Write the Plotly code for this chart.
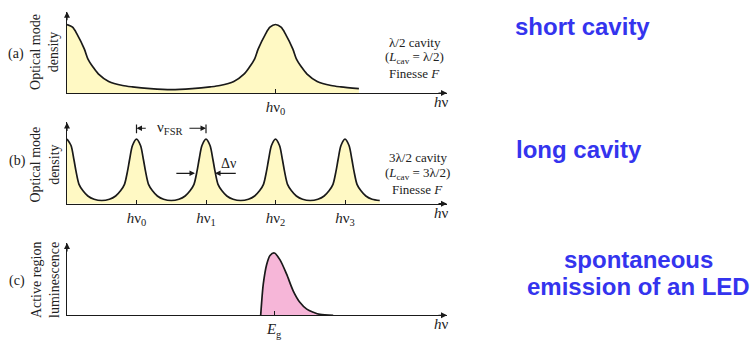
import plotly.graph_objects as go

# ---------------- data ----------------
# x unit = one free spectral range of the long cavity
# panel (a): short cavity (lambda/2), one mode profile repeated at the mode centres
short_mode_centres = [0, 3]
short_mode_offsets = [0, 0.08, 0.144, 0.25, 0.30, 0.374, 0.45, 0.6, 0.8, 0.94, 1.2, 1.5]
short_mode_heights = [1.0, 0.96, 0.86, 0.64, 0.5, 0.38, 0.28, 0.17, 0.11, 0.09, 0.065, 0.05]
short_curve_end = 4.47

# panel (b): long cavity (3 lambda/2)
long_mode_centres = [0, 1, 2, 3, 4]
long_mode_offsets = [0, 0.058, 0.10, 0.13, 0.173, 0.23, 0.30, 0.39, 0.5]
long_mode_heights = [1.0, 0.9, 0.68, 0.5, 0.3, 0.2, 0.12, 0.07, 0.05]
long_curve_end = 4.5

# panel (c): LED spontaneous emission
lum_x = [2.787, 2.80, 2.824, 2.873, 2.921, 2.983, 3.065, 3.16, 3.256, 3.35, 3.45, 3.545, 3.64, 3.83]
lum_y = [0, 0.2, 0.5, 0.815, 0.96, 1.0, 0.89, 0.66, 0.39, 0.21, 0.1, 0.05, 0.015, 0]

# tick labels
short_tick_vals = [3]
short_tick_text = ["<i>h</i>ν<sub>0</sub>"]
long_tick_vals = [1, 2, 3, 4]
long_tick_text = ["<i>h</i>ν<sub>0</sub>", "<i>h</i>ν<sub>1</sub>", "<i>h</i>ν<sub>2</sub>", "<i>h</i>ν<sub>3</sub>"]
lum_tick_vals = [2.98]
lum_tick_text = ["<i>E</i><sub>g</sub>"]

fsr_from, fsr_to = 1, 2
dnu_level = 0.47
dnu_left_edge, dnu_right_edge = 1.842, 2.13


def build_curve(centres, offsets, heights, x_end):
    pts = {}
    for c in centres:
        for o, h in zip(offsets, heights):
            for x in (c - o, c + o):
                if 0 <= x <= x_end + 1e-9:
                    key = round(x, 4)
                    pts[key] = max(pts.get(key, 0), h)
    xs = sorted(pts)
    return xs, [pts[x] for x in xs]


ax_, ay_ = build_curve(short_mode_centres, short_mode_offsets, short_mode_heights, short_curve_end)
bx_, by_ = build_curve(long_mode_centres, long_mode_offsets, long_mode_heights, long_curve_end)

# ---------------- layout helpers ----------------
W, H = 753, 340
def PX(p):
    return p / W
def PY(p):
    return 1 - p / H

PIX_PER_UNIT = 69.5
X0, XEND = 67, 447
xmax = (XEND - X0) / PIX_PER_UNIT

# (baseline px, peak px, arrow top px)
panels = [(95, 25, 12), (208, 142, 125), (322, 258.3, 248)]

LINE = "#1a1a1a"
SERIF = "Liberation Serif"
TXT = "#222222"
YELLOW = "rgb(255,249,196)"
PINK = "rgb(246,182,216)"

fig = go.Figure()
fig.add_trace(go.Scatter(x=ax_, y=ay_, mode="lines", fill="tozeroy", fillcolor=YELLOW,
                         line=dict(color=LINE, width=1.7, shape="spline", smoothing=0.8),
                         xaxis="x", yaxis="y", hoverinfo="skip"))
fig.add_trace(go.Scatter(x=bx_, y=by_, mode="lines", fill="tozeroy", fillcolor=YELLOW,
                         line=dict(color=LINE, width=1.7, shape="spline", smoothing=0.8),
                         xaxis="x2", yaxis="y2", hoverinfo="skip"))
fig.add_trace(go.Scatter(x=lum_x, y=lum_y, mode="lines", fill="tozeroy", fillcolor=PINK,
                         line=dict(color=LINE, width=1.7, shape="spline", smoothing=0.8),
                         xaxis="x3", yaxis="y3", hoverinfo="skip"))

ticks = [(short_tick_vals, short_tick_text), (long_tick_vals, long_tick_text), (lum_tick_vals, lum_tick_text)]
layout = dict(width=W, height=H, margin=dict(l=0, r=0, t=0, b=0),
              paper_bgcolor="white", plot_bgcolor="rgba(0,0,0,0)", showlegend=False)
annotations = []
shapes = []
for i, ((base, peak, top), (tv, tt)) in enumerate(zip(panels, ticks)):
    sx = "" if i == 0 else str(i + 1)
    ymax = (base - top) / (base - peak)
    layout["xaxis" + sx] = dict(domain=[PX(X0), PX(XEND)], range=[0, xmax], anchor="y" + sx,
                                showline=True, linecolor=LINE, linewidth=1.2, showgrid=False,
                                zeroline=False, ticks="inside", ticklen=4, tickcolor=LINE,
                                tickvals=tv, ticktext=tt, ticklabelstandoff=0,
                                tickfont=dict(family=SERIF, size=15, color=TXT), fixedrange=True)
    layout["yaxis" + sx] = dict(domain=[PY(base), PY(top)], range=[0, ymax], anchor="x" + sx,
                                showline=True, linecolor=LINE, linewidth=1.2, showgrid=False,
                                zeroline=False, showticklabels=False, ticks="", fixedrange=True)
    # axis arrowheads
    annotations.append(dict(x=xmax, y=0, xref="x" + sx, yref="y" + sx, ax=-10, ay=0, text="",
                            showarrow=True, arrowhead=2, arrowsize=1, arrowwidth=1.2, arrowcolor=LINE))
    annotations.append(dict(x=0, y=ymax, xref="x" + sx, yref="y" + sx, ax=0, ay=10, text="",
                            showarrow=True, arrowhead=2, arrowsize=1, arrowwidth=1.2, arrowcolor=LINE))
    # h nu axis label
    annotations.append(dict(x=PX(441), y=PY(base + 9), xref="paper", yref="paper", showarrow=False,
                            xanchor="center", yanchor="middle",
                            text="<i>h</i>ν", font=dict(family=SERIF, size=15, color=TXT)))

serif = dict(family=SERIF, size=13, color=TXT)
def ptext(x, y, t, font=serif, **kw):
    d = dict(x=PX(x), y=PY(y), xref="paper", yref="paper", showarrow=False, text=t,
             font=font, xanchor="center", yanchor="middle")
    d.update(kw)
    annotations.append(d)

label_font = dict(family=SERIF, size=14, color=TXT)
ptext(16, 55, "(a)", font=label_font)
ptext(17, 164, "(b)", font=label_font)
ptext(17, 287, "(c)", font=label_font)
ytitle_font = dict(family=SERIF, size=14, color=TXT)
ptext(45, 53, "Optical mode<br>density", font=ytitle_font, textangle=-90)
ptext(45, 168, "Optical mode<br>density", font=ytitle_font, textangle=-90)
ptext(45, 286, "Active region<br>luminescence", font=ytitle_font, textangle=-90)

ptext(415, 43, "λ/2 cavity")
ptext(415, 59, "(<i>L</i><sub>cav</sub> = λ/2)")
ptext(415, 75, "Finesse <i>F</i>")
ptext(418, 161, "3λ/2 cavity")
ptext(418, 177, "(<i>L</i><sub>cav</sub> = 3λ/2)")
ptext(418, 193, "Finesse <i>F</i>")

# FSR bracket (panel b)
fsr_y = (208 - 131) / 66
for xv in (fsr_from, fsr_to):
    shapes.append(dict(type="line", xref="x2", yref="y2", x0=xv, x1=xv,
                       y0=(208 - 136) / 66, y1=(208 - 127) / 66, line=dict(color=LINE, width=1.2)))
annotations.append(dict(x=fsr_from, y=fsr_y, xref="x2", yref="y2", ax=fsr_from + 0.155, ay=fsr_y,
                        axref="x2", ayref="y2", text="", showarrow=True, arrowhead=2,
                        arrowsize=1, arrowwidth=1.1, arrowcolor=LINE))
annotations.append(dict(x=fsr_to, y=fsr_y, xref="x2", yref="y2", ax=fsr_to - 0.26, ay=fsr_y,
                        axref="x2", ayref="y2", text="", showarrow=True, arrowhead=2,
                        arrowsize=1, arrowwidth=1.1, arrowcolor=LINE))
annotations.append(dict(x=(fsr_from + fsr_to) / 2 - 0.02, y=fsr_y, xref="x2", yref="y2", showarrow=False,
                        xanchor="center", yanchor="middle",
                        text="ν<sub>FSR</sub>", font=dict(family=SERIF, size=15, color=TXT)))
# delta nu arrows
annotations.append(dict(x=dnu_left_edge, y=dnu_level, xref="x2", yref="y2", ax=dnu_left_edge - 0.29,
                        ay=dnu_level, axref="x2", ayref="y2", text="", showarrow=True, arrowhead=2,
                        arrowsize=1, arrowwidth=1.1, arrowcolor=LINE))
annotations.append(dict(x=dnu_right_edge, y=dnu_level, xref="x2", yref="y2", ax=dnu_right_edge + 0.32,
                        ay=dnu_level, axref="x2", ayref="y2", text="", showarrow=True, arrowhead=2,
                        arrowsize=1, arrowwidth=1.1, arrowcolor=LINE))
annotations.append(dict(x=2.33, y=0.62, xref="x2", yref="y2", showarrow=False, text="Δν",
                        xanchor="center", yanchor="middle", font=dict(family=SERIF, size=14, color=TXT)))

# blue captions
blue = dict(family="Liberation Sans", size=24, color="#3434EE")
for x, y, t in [(582, 27, "<b>short cavity</b>"), (579, 153, "<b>long cavity</b>"),
                (638, 265, "<b>spontaneous</b>"), (638, 293, "<b>emission of an LED</b>")]:
    ptext(x, y, t, font=blue)

layout["annotations"] = annotations
layout["shapes"] = shapes
fig.update_layout(**layout)
fig.write_html("out.html")
